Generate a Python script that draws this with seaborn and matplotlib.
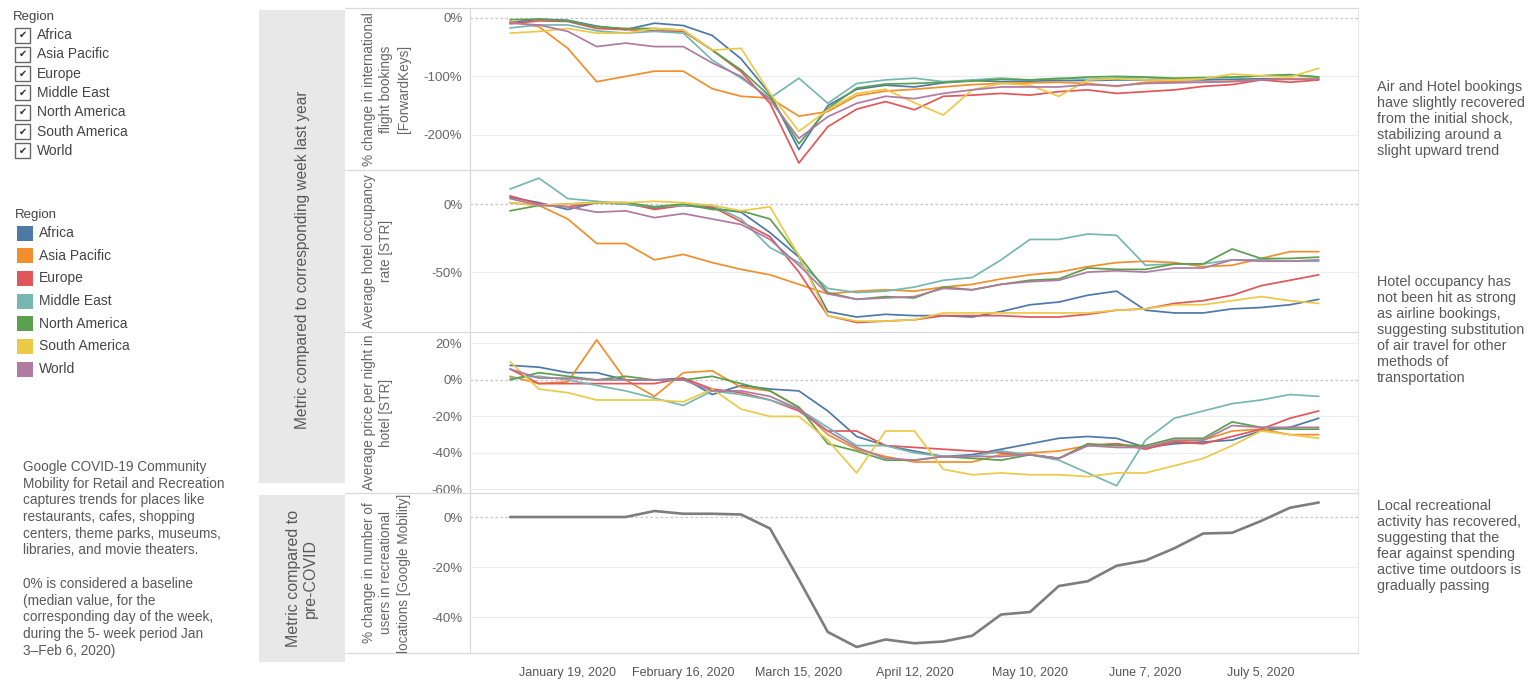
import pandas as pd
import matplotlib.pyplot as plt
import seaborn as sns
from matplotlib.patches import Rectangle
from matplotlib.lines import Line2D
from matplotlib.ticker import FuncFormatter

# ---- data (weekly) ----
regions = ['Africa', 'Asia Pacific', 'Europe', 'Middle East',
           'North America', 'South America', 'World']
region_colors = ['#4e79a7', '#f28e2b', '#e15759', '#76b7b2',
                 '#59a14f', '#edc948', '#b07aa1']
weeks = pd.date_range('2020-01-05', periods=29, freq='7D')

# % change in international flight bookings [ForwardKeys], one row per region
flight_bookings = [
    [-8, -2, -4, -14, -20, -9, -13, -30, -70, -130, -225, -150, -122, -115, -118,
     -111, -107, -109, -108, -107, -107, -106, -106, -105, -106, -105, -104, -104, -105],
    [-6, -15, -52, -109, -100, -91, -91, -121, -134, -137, -168, -160, -133, -125, -122,
     -118, -114, -112, -111, -110, -112, -117, -110, -109, -110, -108, -106, -104, -103],
    [-10, -5, -6, -18, -20, -22, -23, -55, -92, -146, -248, -186, -156, -143, -157,
     -134, -132, -129, -132, -126, -123, -129, -126, -123, -117, -114, -106, -110, -106],
    [-17, -12, -12, -22, -26, -23, -26, -72, -103, -137, -103, -146, -112, -106, -103,
     -109, -106, -103, -106, -103, -105, -103, -102, -105, -103, -102, -99, -97, -101],
    [-3, -2, -5, -15, -18, -18, -21, -55, -89, -134, -215, -155, -120, -113, -112,
     -110, -108, -105, -106, -104, -101, -100, -101, -103, -102, -101, -99, -97, -101],
    [-26, -23, -18, -26, -26, -18, -21, -55, -52, -129, -194, -157, -129, -122, -145,
     -166, -123, -112, -115, -134, -106, -104, -106, -106, -104, -96, -99, -101, -86],
    [-9, -12, -23, -49, -43, -49, -49, -77, -100, -140, -206, -169, -146, -134, -138,
     -129, -123, -118, -118, -118, -114, -116, -112, -111, -110, -109, -106, -105, -105],
]

# Average hotel occupancy rate [STR]
hotel_occupancy = [
    [5, 1, -4, 1, 0, -3, -1, -3, -6, -21, -39, -79, -83, -81, -82,
     -82, -83, -79, -74, -72, -67, -64, -78, -80, -80, -77, -76, -74, -70],
    [1, -1, -11, -29, -29, -41, -37, -43, -48, -52, -59, -66, -64, -63, -64,
     -61, -59, -55, -52, -50, -46, -43, -42, -43, -46, -45, -40, -35, -35],
    [6, 0, -2, 1, 1, -4, -1, -2, -13, -24, -50, -82, -87, -86, -85,
     -82, -82, -82, -83, -83, -81, -78, -77, -73, -71, -67, -60, -56, -52],
    [11, 19, 4, 2, 0, -2, -1, -1, -11, -32, -43, -62, -65, -64, -61,
     -56, -54, -41, -26, -26, -22, -23, -45, -44, -44, -41, -41, -42, -42],
    [-5, -1, 0, 1, 1, -2, 0, -4, -5, -11, -38, -65, -70, -68, -69,
     -61, -63, -59, -56, -55, -47, -48, -48, -44, -44, -33, -40, -40, -39],
    [1, -1, 0, 1, 1, 2, 1, -1, -5, -2, -38, -82, -86, -86, -85,
     -80, -80, -80, -80, -80, -80, -78, -77, -74, -74, -71, -68, -71, -73],
    [4, -1, -2, -6, -5, -10, -7, -11, -15, -26, -45, -66, -70, -69, -68,
     -62, -63, -59, -57, -56, -50, -49, -50, -47, -47, -41, -42, -42, -41],
]

# Average price per night in hotel [STR]
hotel_price = [
    [8, 7, 4, 4, 0, 0, 1, -8, -3, -5, -6, -17, -31, -36, -39,
     -42, -41, -38, -35, -32, -31, -32, -37, -35, -34, -33, -28, -26, -21],
    [2, -2, -1, 22, 0, -9, 4, 5, -4, -6, -15, -30, -38, -42, -45,
     -45, -45, -41, -40, -39, -36, -35, -37, -34, -33, -28, -27, -30, -30],
    [6, -2, -2, -2, -2, -2, 1, -5, -7, -11, -17, -28, -28, -36, -37,
     -38, -39, -40, -41, -43, -36, -35, -38, -34, -35, -31, -27, -21, -17],
    [1, 2, 0, -3, -6, -10, -14, -6, -8, -11, -16, -26, -36, -36, -40,
     -42, -42, -39, -41, -44, -51, -58, -33, -21, -17, -13, -11, -8, -9],
    [0, 4, 2, 0, 2, 0, 0, 2, -2, -6, -15, -35, -39, -44, -44,
     -42, -43, -44, -41, -43, -35, -36, -36, -32, -32, -23, -26, -27, -27],
    [10, -5, -7, -11, -11, -11, -12, -5, -16, -20, -20, -33, -51, -28, -28,
     -49, -52, -51, -52, -52, -53, -51, -51, -47, -43, -36, -28, -30, -32],
    [6, 1, 1, 0, 0, 0, 0, -6, -6, -9, -16, -28, -37, -43, -44,
     -42, -42, -42, -41, -43, -36, -37, -37, -33, -33, -25, -26, -26, -26],
]

# % change in number of users in recreational locations [Google Mobility]
mobility = [0, 0, 0, 0, 0, 2.4, 1.3, 1.3, 1.0, -4.6, -25, -46, -52, -49, -50.5,
            -49.8, -47.5, -39, -38, -27.6, -25.7, -19.5, -17.4, -12.5, -6.6, -6.3,
            -1.6, 3.7, 5.8]

panel_labels = ['% change in international\nflight bookings\n[ForwardKeys]',
                'Average hotel occupancy\nrate [STR]',
                'Average price per night in\nhotel [STR]',
                '% change in number of\nusers in recreational\nlocations [Google Mobility]']

left_note = ['Google COVID-19 Community', 'Mobility for Retail and Recreation',
             'captures trends for places like', 'restaurants, cafes, shopping',
             'centers, theme parks, museums,', 'libraries, and movie theaters.', '',
             '0% is considered a baseline', '(median value, for the',
             'corresponding day of the week,', 'during the 5- week period Jan',
             '3\u2013Feb 6, 2020)']
right_notes = [
    ['Air and Hotel bookings', 'have slightly recovered', 'from the initial shock,',
     'stabilizing around a', 'slight upward trend'],
    ['Hotel occupancy has', 'not been hit as strong', 'as airline bookings,',
     'suggesting substitution', 'of air travel for other', 'methods of',
     'transportation'],
    ['Local recreational', 'activity has recovered,', 'suggesting that the',
     'fear against spending', 'active time outdoors is', 'gradually passing'],
]

# ---- long format ----
rows = []
for metric, table in [('flights', flight_bookings), ('occupancy', hotel_occupancy),
                      ('price', hotel_price)]:
    for region, vals in zip(regions, table):
        for wk, v in zip(weeks, vals):
            rows.append((metric, region, wk, v))
df = pd.DataFrame(rows, columns=['metric', 'region', 'week', 'value'])
mob = pd.DataFrame({'week': weeks, 'value': mobility})

sns.set_style('white')
plt.rcParams['font.family'] = ['Liberation Sans', 'DejaVu Sans']

W, H = 1537, 682
fig = plt.figure(figsize=(W / 100, H / 100), dpi=100)


def fx(px):
    return px / W


def fy(py):
    return 1 - py / H


TXT = '#595959'
GRID = '#ededed'
LINE = '#d9d9d9'

panels = [(8, 170), (170, 332), (332, 493), (493, 653)]
ylims = [(-260, 17), (-94, 25), (-62, 26.3), (-54.4, 9.6)]
yticks = [[0, -100, -200], [0, -50], [20, 0, -20, -40, -60], [0, -20, -40]]
xlim = (pd.Timestamp('2019-12-26 07:00'), pd.Timestamp('2020-07-28 12:00'))

axes = []
for k, (top, bottom) in enumerate(panels):
    ax = fig.add_axes([fx(470), fy(bottom), fx(1358) - fx(470), (bottom - top) / H])
    axes.append(ax)
    if k < 3:
        metric = ['flights', 'occupancy', 'price'][k]
        sns.lineplot(data=df[df.metric == metric], x='week', y='value', hue='region',
                     hue_order=regions, palette=region_colors, linewidth=1.25,
                     estimator=None, legend=False, ax=ax)
    else:
        sns.lineplot(data=mob, x='week', y='value', color='#7d7d7d', linewidth=1.9,
                     ax=ax)
    ax.set_xlim(*xlim)
    ax.set_ylim(*ylims[k])
    ax.set_yticks(yticks[k])
    ax.yaxis.set_major_formatter(FuncFormatter(lambda v, p: f"{int(round(v))}%"))
    for t in yticks[k]:
        if t == 0:
            ax.axhline(0, color='#c4c4c4', lw=0.9, ls=(0, (2, 2)), zorder=0)
        else:
            ax.axhline(t, color=GRID, lw=0.9, zorder=0)
    ax.set_xlabel('')
    ax.set_ylabel('')
    ax.tick_params(axis='y', length=0, labelsize=9.5, labelcolor='#666666', pad=5.5)
    for s in ['top', 'bottom']:
        ax.spines[s].set_visible(False)
    ax.spines['left'].set_color(LINE)
    ax.spines['right'].set_color('#e6e6e6')
    if k < 3:
        ax.set_xticks([])
    else:
        ticks = list(weeks[2::4])
        ax.set_xticks(ticks)
        ax.set_xticklabels([f"{d:%B} {d.day}, {d.year}" for d in ticks])
        ax.tick_params(axis='x', length=0, labelsize=9, labelcolor='#555555', pad=10)
    fig.text(fx(362), fy((top + bottom) / 2), panel_labels[k], rotation=90,
             ha='left', va='center', multialignment='center', fontsize=9.8,
             color='#666666', linespacing=1.3)

# panel separators
for y in [8, 170, 332, 493, 653]:
    fig.add_artist(Line2D([fx(345), fx(1358)], [fy(y), fy(y)], color=LINE, lw=0.9))

# grey row headers
fig.add_artist(Rectangle((fx(259), fy(483)), 86 / W, 473 / H, transform=fig.transFigure,
                         fc='#e8e8e8', ec='none', zorder=0))
fig.add_artist(Rectangle((fx(259), fy(662)), 86 / W, 167 / H, transform=fig.transFigure,
                         fc='#e8e8e8', ec='none', zorder=0))
fig.text(fx(302), fy(260), 'Metric compared to corresponding week last year',
         rotation=90, ha='center', va='center', fontsize=11.2, color=TXT)
fig.text(fx(302), fy(578), 'Metric compared to\npre-COVID', rotation=90,
         ha='center', va='center', multialignment='center', fontsize=11.5,
         color=TXT, linespacing=1.1)

# filter legend (checkboxes)
fig.text(fx(13), fy(17), 'Region', fontsize=9.5, color='#444444', va='center')
for k, r in enumerate(regions):
    yc = 35 + k * 19.3
    fig.add_artist(Rectangle((fx(15), fy(yc + 7.5)), 15 / W, 15 / H,
                             transform=fig.transFigure, fc='white', ec='#666666', lw=1))
    fig.text(fx(22.5), fy(yc), '\u2714', ha='center', va='center', fontsize=7,
             color='#333333', family=['DejaVu Sans'])
    fig.text(fx(37), fy(yc), r, fontsize=10, color='#444444', va='center')

# colour legend
fig.text(fx(15), fy(215), 'Region', fontsize=9.5, color='#444444', va='center')
for k, (r, c) in enumerate(zip(regions, region_colors)):
    yc = 233 + k * 22.7
    fig.add_artist(Rectangle((fx(17), fy(yc + 7.5)), 16 / W, 15 / H,
                             transform=fig.transFigure, fc=c, ec='none'))
    fig.text(fx(39), fy(yc), r, fontsize=10, color='#444444', va='center')

# notes
for i, line in enumerate(left_note):
    fig.text(fx(23), fy(467 + i * 16.7), line, fontsize=9.8, color=TXT, va='center')
for start, block in zip([87, 282, 506], right_notes):
    for i, line in enumerate(block):
        fig.text(fx(1377), fy(start + i * 16), line, fontsize=10.4, color=TXT,
                 va='center')

plt.savefig('out.png', dpi=100)
